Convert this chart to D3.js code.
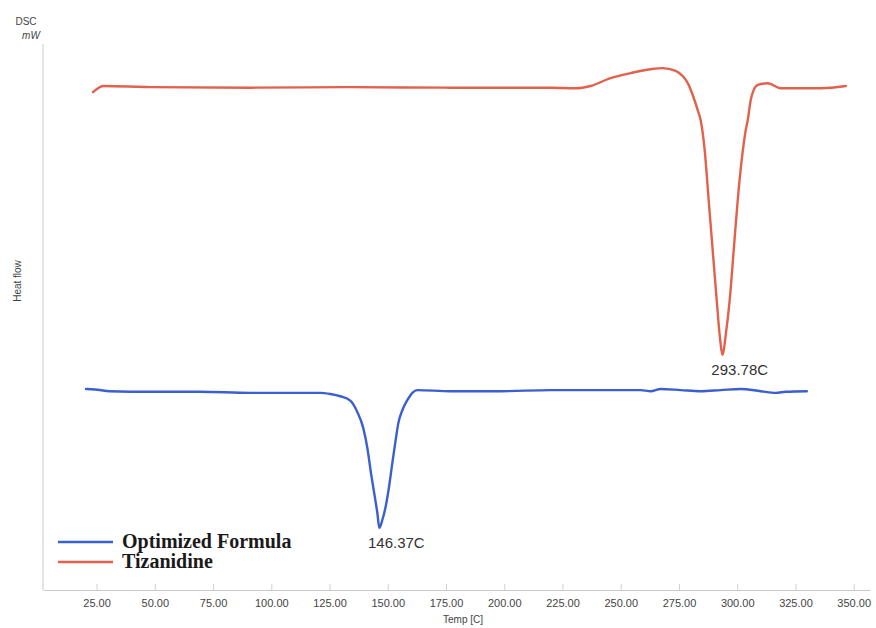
<!DOCTYPE html>
<html>
<head>
<meta charset="utf-8">
<script src="https://cdn.jsdelivr.net/npm/d3@7/dist/d3.min.js"></script>
<style>
  html, body { margin: 0; padding: 0; background: #fff; }
  svg { display: block; }
</style>
</head>
<body>
<svg id="chart" width="876" height="628"></svg>
<script>
// DSC thermograms: temperature (°C) and heat flow (mW, stacked display)
const tizanidineTemp = [23.46, 25.61, 27.76, 47.96, 90.93, 133.91, 176.88, 219.85, 230.60, 237.04,
  245.64, 254.23, 262.83, 267.98, 273.57, 277.01, 279.16, 281.31, 283.03, 284.32, 286.03, 287.75,
  289.47, 291.19, 292.48, 293.78, 295.06, 296.78, 298.50, 300.21, 301.93, 303.65, 304.51, 305.80,
  307.09, 308.81, 313.11, 318.69, 335.88, 346.63];
const tizanidineFlow = [8.89, 8.96, 9.00, 8.98, 8.97, 8.98, 8.97, 8.97, 8.96, 9.00,
  9.14, 9.23, 9.30, 9.32, 9.27, 9.16, 9.02, 8.79, 8.57, 8.39, 7.86, 6.96,
  6.07, 5.18, 4.55, 4.20, 4.55, 5.18, 6.07, 6.96, 7.68, 8.21, 8.39, 8.75,
  8.93, 9.02, 9.05, 8.96, 8.96, 9.00];

const formulaTemp = [20.46, 24.32, 30.77, 47.96, 69.45, 90.93, 112.42, 121.01, 125.31, 129.61,
  133.91, 136.91, 139.49, 141.21, 142.93, 144.65, 145.51, 146.37, 147.66, 148.95, 150.67, 151.96,
  153.25, 154.53, 156.25, 158.40, 160.55, 162.70, 176.88, 198.37, 219.85, 241.34, 258.53, 262.83,
  267.13, 275.72, 284.32, 292.91, 301.50, 310.10, 316.54, 320.84, 329.87];
const formulaFlow = [3.59, 3.58, 3.55, 3.54, 3.54, 3.52, 3.52, 3.52, 3.50, 3.46,
  3.38, 3.18, 2.89, 2.54, 2.05, 1.61, 1.38, 1.11, 1.25, 1.46, 1.88, 2.27,
  2.64, 2.98, 3.21, 3.39, 3.52, 3.57, 3.55, 3.55, 3.57, 3.57, 3.57, 3.55,
  3.59, 3.57, 3.55, 3.57, 3.59, 3.55, 3.52, 3.54, 3.55];

const xTicks = [25, 50, 75, 100, 125, 150, 175, 200, 225, 250, 275, 300, 325, 350];
const seriesNames = ["Optimized Formula", "Tizanidine"];
const seriesColors = ["#3b5fcf", "#e2614c"];
const peakTemps = [146.37, 293.78];

const svg = d3.select("#chart");
const x = d3.scaleLinear().domain([2, 357]).range([43, 870]);
const y = d3.scaleLinear().domain([0, 10]).range([590, 30]);

// axes
const xAxis = d3.axisBottom(x).tickValues(xTicks).tickFormat(d3.format(".2f"))
  .tickSizeInner(-6).tickSizeOuter(0).tickPadding(9);
const gx = svg.append("g").attr("transform", `translate(0,${y(0)})`).call(xAxis);
gx.select(".domain").attr("stroke", "#c8c8c8");
gx.selectAll(".tick line").attr("stroke", "#d0d0d0");
gx.selectAll("text").attr("fill", "#444").style("font-family", "Liberation Sans, Arial, sans-serif")
  .style("font-size", "11px");

svg.append("line").attr("x1", x(2)).attr("x2", x(2)).attr("y1", 44).attr("y2", y(0))
  .attr("stroke", "#c8c8c8");

// axis titles
const sans = "Liberation Sans, Arial, sans-serif";
svg.append("text").attr("x", 463).attr("y", 623).attr("text-anchor", "middle")
  .attr("fill", "#444").style("font-family", sans).style("font-size", "10px").text("Temp [C]");
svg.append("text").attr("x", 26).attr("y", 25).attr("text-anchor", "middle")
  .attr("fill", "#444").style("font-family", sans).style("font-size", "10px").text("DSC");
svg.append("text").attr("x", 31).attr("y", 39).attr("text-anchor", "middle")
  .attr("fill", "#444").style("font-family", sans).style("font-size", "10px")
  .style("font-style", "italic").text("mW");
svg.append("text").attr("transform", "translate(21,281) rotate(-90)").attr("text-anchor", "middle")
  .attr("fill", "#444").style("font-family", sans).style("font-size", "10px").text("Heat flow");

// curves
const line = d3.line().x(d => x(d[0])).y(d => y(d[1])).curve(d3.curveMonotoneX);
const series = [
  d3.zip(formulaTemp, formulaFlow),
  d3.zip(tizanidineTemp, tizanidineFlow)
];
series.forEach((s, i) => {
  svg.append("path").datum(s).attr("d", line).attr("fill", "none")
    .attr("stroke", seriesColors[i]).attr("stroke-width", 2.4)
    .attr("stroke-linejoin", "round").attr("stroke-linecap", "round");
});

// peak labels
const peakFlows = [
  formulaFlow[formulaTemp.indexOf(peakTemps[0])],
  tizanidineFlow[tizanidineTemp.indexOf(peakTemps[1])]
];
peakTemps.forEach((t, i) => {
  svg.append("text").attr("x", x(t) + 17).attr("y", y(peakFlows[i]) + 20)
    .attr("text-anchor", "middle").attr("fill", "#333")
    .style("font-family", sans).style("font-size", "15px")
    .text(d3.format(".2f")(t) + "C");
});

// legend
const legendY = [542, 562];
seriesNames.forEach((name, i) => {
  svg.append("line").attr("x1", 58).attr("x2", 113).attr("y1", legendY[i]).attr("y2", legendY[i])
    .attr("stroke", seriesColors[i]).attr("stroke-width", 2.4);
  svg.append("text").attr("x", 122).attr("y", legendY[i] + 6)
    .attr("fill", "#1a1a1a").style("font-family", "Liberation Serif, Times New Roman, serif")
    .style("font-weight", "bold").style("font-size", "20px").text(name);
});
</script>
</body>
</html>
